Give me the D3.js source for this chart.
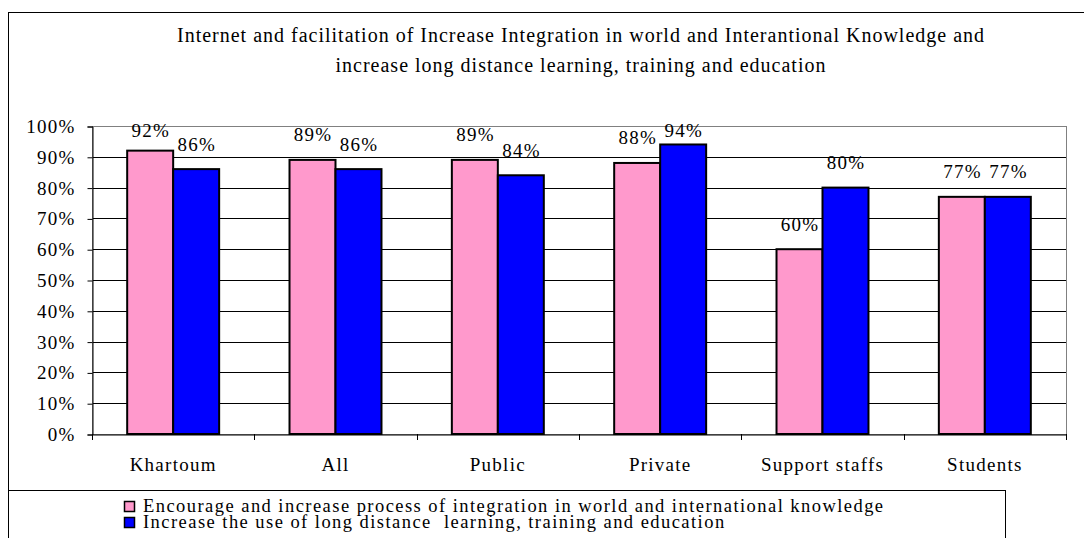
<!DOCTYPE html>
<html>
<head>
<meta charset="utf-8">
<script src="https://cdn.jsdelivr.net/npm/d3@7"></script>
<style>
  body { margin: 0; background: #fff; }
  svg text { font-family: "Liberation Serif", "Times New Roman", serif !important; fill: #000; }
</style>
</head>
<body>
<div id="chart"></div>
<script>
// data
var categories = ["Khartoum", "All", "Public", "Private", "Support staffs", "Students"];
var encourage = [92, 89, 89, 88, 60, 77];
var distance = [86, 86, 84, 94, 80, 77];
var seriesNames = [
  "Encourage and increase process of integration in world and international knowledge",
  "Increase the use of long distance  learning, training and education"
];
var seriesColors = ["#ff99cc", "#0000ff"];
var yTicks = [0, 10, 20, 30, 40, 50, 60, 70, 80, 90, 100];
var titleLines = [
  "Internet and facilitation of Increase Integration in world and Interantional Knowledge and",
  "increase long distance learning, training and education"
];

var svgWidth = 1084;
var svgHeight = 538;
var plot = { left: 92, right: 1066, top: 126, bottom: 434 };
var fontSize = "19px";
var spacing = "1.25px";

var svg = d3.select("#chart")
  .append("svg")
  .attr("width", svgWidth)
  .attr("height", svgHeight);

// outer chart frame (runs off right and bottom)
svg.append("rect")
  .attr("x", 8.5).attr("y", 12.5)
  .attr("width", 1100).attr("height", 560)
  .attr("fill", "#fff")
  .attr("stroke", "#000");

// title
svg.append("g").selectAll("text")
  .data(titleLines)
  .enter().append("text")
  .attr("x", 581)
  .attr("y", function(d, i) { return 42 + i * 30; })
  .attr("text-anchor", "middle")
  .style("font-size", "20px")
  .style("letter-spacing", "1px")
  .text(function(d) { return d; });

var x0 = d3.scaleBand()
  .domain(categories)
  .range([plot.left, plot.right]);

var x1 = d3.scaleBand()
  .domain([0, 1])
  .range([0, x0.bandwidth()])
  .paddingInner(0)
  .paddingOuter(0.765);

var y = d3.scaleLinear()
  .domain([0, 100])
  .range([plot.bottom, plot.top]);

// gridlines
svg.append("g").selectAll("line")
  .data(yTicks.filter(function(t) { return t > 0 && t < 100; }))
  .enter().append("line")
  .attr("x1", plot.left).attr("x2", plot.right)
  .attr("y1", function(d) { return Math.round(y(d)) + 0.5; })
  .attr("y2", function(d) { return Math.round(y(d)) + 0.5; })
  .attr("stroke", "#000");

// plot area border
svg.append("rect")
  .attr("x", plot.left + 0.5).attr("y", plot.top + 0.5)
  .attr("width", plot.right - plot.left).attr("height", plot.bottom - plot.top)
  .attr("fill", "none")
  .attr("stroke", "#808080");

// bars
var rows = categories.map(function(c, i) {
  return { cat: c, vals: [encourage[i], distance[i]] };
});

var groups = svg.append("g").selectAll("g")
  .data(rows)
  .enter().append("g")
  .attr("transform", function(d) { return "translate(" + x0(d.cat) + ",0)"; });

groups.selectAll("rect")
  .data(function(d) { return d.vals.map(function(v, k) { return { k: k, v: v }; }); })
  .enter().append("rect")
  .attr("x", function(d) { return x1(d.k); })
  .attr("y", function(d) { return y(d.v); })
  .attr("width", x1.bandwidth())
  .attr("height", function(d) { return plot.bottom - y(d.v); })
  .attr("fill", function(d) { return seriesColors[d.k]; })
  .attr("stroke", "#000")
  .attr("stroke-width", 2);

groups.selectAll("text")
  .data(function(d) { return d.vals.map(function(v, k) { return { k: k, v: v }; }); })
  .enter().append("text")
  .attr("x", function(d) { return x1(d.k) + x1.bandwidth() / 2 + 0.6; })
  .attr("y", function(d) { return Math.max(y(d.v) - 18.5, 137); })
  .attr("text-anchor", "middle")
  .style("font-size", fontSize)
  .style("letter-spacing", spacing)
  .text(function(d) { return d.v + "%"; });

// y axis
var yAxis = d3.axisLeft(y)
  .tickValues(yTicks)
  .tickSize(5)
  .tickPadding(12)
  .tickFormat(function(d) { return d + "%"; });

var gy = svg.append("g")
  .attr("transform", "translate(" + (plot.left + 0.5) + ",0.5)")
  .call(yAxis);
gy.select(".domain").attr("stroke", "#000");
gy.selectAll(".tick line").attr("stroke", "#000");
gy.selectAll(".tick text")
  .style("font-size", fontSize)
  .style("letter-spacing", spacing)
  .attr("fill", "#000");

// x axis
var xAxis = d3.axisBottom(x0)
  .tickSize(0)
  .tickPadding(23);

var gx = svg.append("g")
  .attr("transform", "translate(0," + (plot.bottom + 0.5) + ")")
  .call(xAxis);
gx.select(".domain").attr("stroke", "#000");
gx.selectAll(".tick text")
  .style("font-size", fontSize)
  .style("letter-spacing", spacing)
  .attr("fill", "#000");

// category separator ticks
svg.append("g").selectAll("line")
  .data(categories)
  .enter().append("line")
  .attr("x1", function(d) { return Math.round(x0(d)) + 0.5; })
  .attr("x2", function(d) { return Math.round(x0(d)) + 0.5; })
  .attr("y1", plot.bottom)
  .attr("y2", plot.bottom + 6)
  .attr("stroke", "#000");
svg.append("line")
  .attr("x1", plot.right + 0.5).attr("x2", plot.right + 0.5)
  .attr("y1", plot.bottom).attr("y2", plot.bottom + 6)
  .attr("stroke", "#000");

// legend
var legend = svg.append("g");
legend.append("rect")
  .attr("x", 8.5).attr("y", 490.5)
  .attr("width", 997).attr("height", 80)
  .attr("fill", "#fff")
  .attr("stroke", "#000");

var items = legend.selectAll("g.item")
  .data(seriesNames)
  .enter().append("g")
  .attr("class", "item")
  .attr("transform", function(d, i) { return "translate(124," + (501 + i * 16) + ")"; });

items.append("rect")
  .attr("x", 0.5).attr("y", 0.5)
  .attr("width", 10).attr("height", 10)
  .attr("fill", function(d, i) { return seriesColors[i]; })
  .attr("stroke", "#000")
  .attr("stroke-width", 1.5);

items.append("text")
  .attr("x", 19)
  .attr("y", 11)
  .style("font-size", "18.5px")
  .style("letter-spacing", "1.45px")
  .style("white-space", "pre")
  .text(function(d) { return d; });
</script>
</body>
</html>
